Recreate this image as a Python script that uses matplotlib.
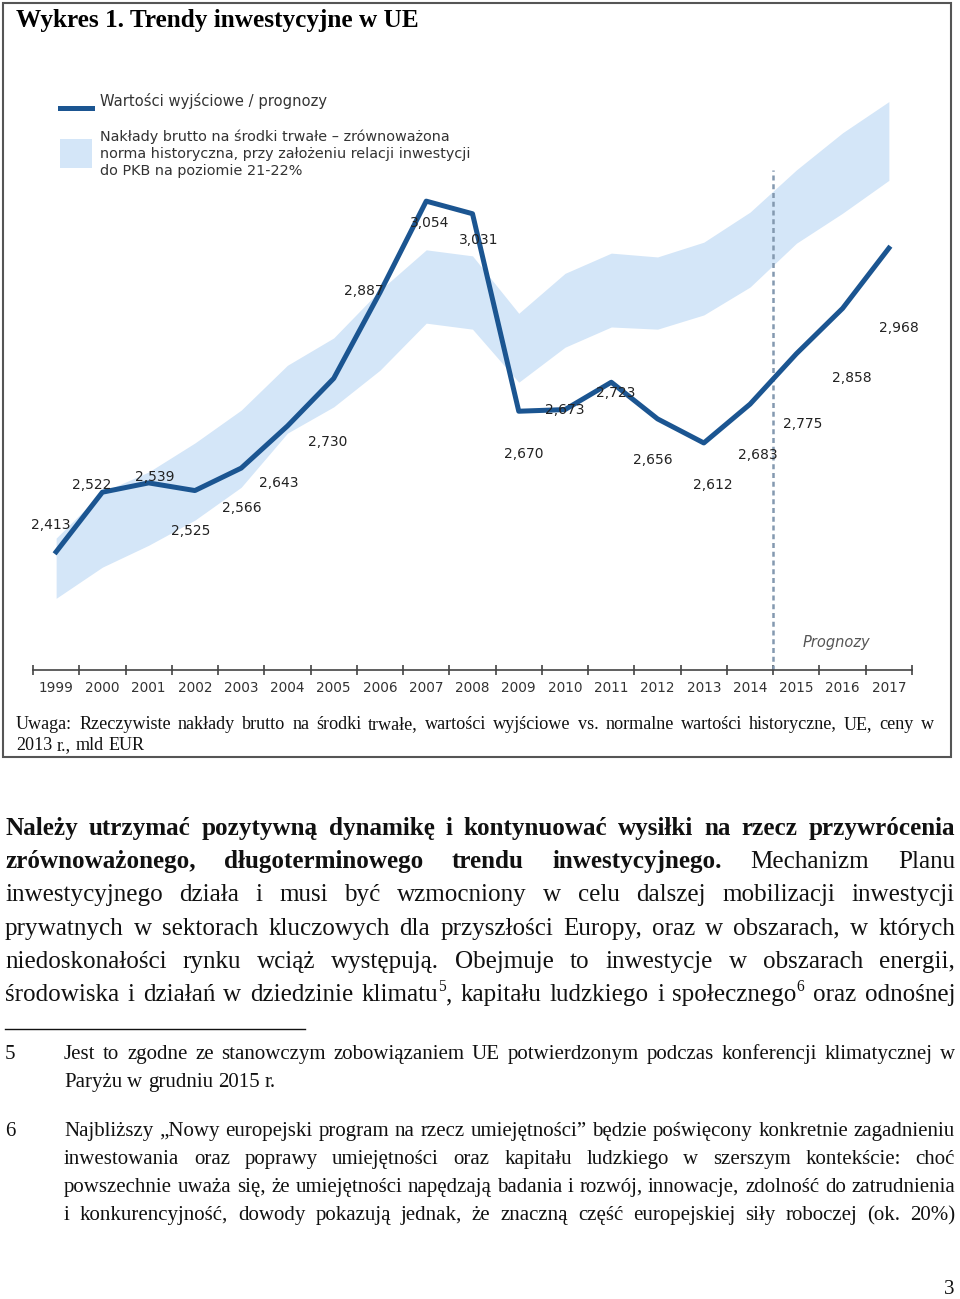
import re
import numpy as np
import matplotlib
matplotlib.use('Agg')
import matplotlib.pyplot as plt
from matplotlib.patches import Rectangle
from matplotlib.lines import Line2D

# --- data (mld EUR, ceny z 2013 r.) ---
years = list(range(1999, 2018))
baseline = [2413, 2522, 2539, 2525, 2566, 2643, 2730, 2887, 3054, 3031,
            2670, 2673, 2723, 2656, 2612, 2683, 2775, 2858, 2968]
norm_low = [2328, 2385, 2425, 2471, 2531, 2630, 2678, 2745, 2831, 2820,
            2723, 2787, 2824, 2820, 2846, 2897, 2977, 3032, 3092]
norm_high = [2438, 2522, 2559, 2612, 2672, 2754, 2804, 2891, 2965, 2954,
             2849, 2922, 2959, 2952, 2979, 3034, 3111, 3179, 3236]
forecast_from = 2014.5

title = "Wykres 1. Trendy inwestycyjne w UE"
legend_line = "Wartości wyjściowe / prognozy"
legend_band = ("Nakłady brutto na środki trwałe – zrównoważona\n"
               "norma historyczna, przy założeniu relacji inwestycji\n"
               "do PKB na poziomie 21-22%")
note = ["Uwaga: Rzeczywiste nakłady brutto na środki trwałe, wartości wyjściowe vs. normalne wartości historyczne, UE, ceny w",
        "2013 r., mld EUR"]

# '*' = bold word, '^n' = superscript
body = [
    "*Należy *utrzymać *pozytywną *dynamikę *i *kontynuować *wysiłki *na *rzecz *przywrócenia",
    "*zrównoważonego, *długoterminowego *trendu *inwestycyjnego. Mechanizm Planu",
    "inwestycyjnego działa i musi być wzmocniony w celu dalszej mobilizacji inwestycji",
    "prywatnych w sektorach kluczowych dla przyszłości Europy, oraz w obszarach, w których",
    "niedoskonałości rynku wciąż występują. Obejmuje to inwestycje w obszarach energii,",
    "środowiska i działań w dziedzinie klimatu^5, kapitału ludzkiego i społecznego^6 oraz odnośnej",
]
fn5 = ["Jest to zgodne ze stanowczym zobowiązaniem UE potwierdzonym podczas konferencji klimatycznej w",
       "Paryżu w grudniu 2015 r."]
fn6 = ["Najbliższy „Nowy europejski program na rzecz umiejętności” będzie poświęcony konkretnie zagadnieniu",
       "inwestowania oraz poprawy umiejętności oraz kapitału ludzkiego w szerszym kontekście: choć",
       "powszechnie uważa się, że umiejętności napędzają badania i rozwój, innowacje, zdolność do zatrudnienia",
       "i konkurencyjność, dowody pokazują jednak, że znaczną część europejskiej siły roboczej (ok. 20%)"]

# label offsets in pixels (dx right, dy down) from each point
lab_off = [(-5, -27), (-11, -7), (6, -6), (-4, 40), (1, 40), (-9, 57), (-6, 64),
           (-16, -2), (3, 22), (6, 26), (5, 43), (0, 0), (4, 11), (-5, 41),
           (9, 42), (8, 51), (6, 70), (9, 70), (10, 80)]

W, H = 960, 1299
SERIF = 'Liberation Serif'
LINE_C = '#1b5591'
BAND_C = '#d4e6f8'

fig = plt.figure(figsize=(W / 100, H / 100), dpi=100)


def fx(x):
    return x / W


def fy(y):
    return 1 - y / H


def put_line(line, x0, x1, base, size, justify=True, color='#111111'):
    rend = fig.canvas.get_renderer()
    em = size * 100 / 72
    words = []
    for w in line.split(' '):
        bold = w.startswith('*')
        w = w.lstrip('*')
        runs = []
        for part in re.split(r'(\^\d)', w):
            if not part:
                continue
            if part.startswith('^'):
                t = fig.text(0, fy(base - 0.4 * em), part[1:], fontsize=size * 0.62,
                             family=SERIF, va='baseline', color=color)
            else:
                t = fig.text(0, fy(base), part, fontsize=size, family=SERIF,
                             fontweight='bold' if bold else 'normal',
                             va='baseline', color=color)
            runs.append(t)
        words.append(runs)
    widths = [[t.get_window_extent(rend).width for t in runs] for runs in words]
    total = sum(sum(ws) for ws in widths)
    gap = 0.25 * em
    if justify and len(words) > 1:
        gap = (x1 - x0 - total) / (len(words) - 1)
    x = x0
    for runs, ws in zip(words, widths):
        for t, wd in zip(runs, ws):
            t.set_x(fx(x))
            x += wd
        x += gap


# --- frame round the chart ---
fig.add_artist(Rectangle((fx(3), fy(757)), 948 / W, 754 / H, transform=fig.transFigure,
                         fill=False, ec='#555555', lw=1.5))
fig.text(fx(16), fy(27), title, family=SERIF, fontweight='bold', fontsize=18.2, va='baseline')

# --- chart ---
ax = fig.add_axes([33 / W, 1 - 670 / H, 879 / W, 610 / H])
ax.fill_between(years, norm_low, norm_high, color=BAND_C, lw=0)
ax.vlines(forecast_from, 2197, 3111, colors='#8499b0', linestyles=(0, (2, 1.5)), lw=1.8)
ax.plot(years, baseline, color=LINE_C, lw=3.6)

for yr, v, (dx, dy) in zip(years, baseline, lab_off):
    ax.annotate(f"{v:,}", (yr, v), xytext=(dx, -dy), textcoords='offset pixels',
                ha='center', va='center', fontsize=10, color='#222222')

ax.set_xlim(1998.5, 2017.5)
ax.set_ylim(2197, 3312)
ax.set_facecolor('none')
for s in ['top', 'right', 'left']:
    ax.spines[s].set_visible(False)
ax.spines['bottom'].set_color('#444444')
ax.spines['bottom'].set_linewidth(1.2)
ax.set_yticks([])
ax.set_xticks(np.arange(1998.5, 2018, 1))
ax.set_xticklabels([])
ax.tick_params(axis='x', which='major', direction='inout', length=7, color='#444444', width=1.2)
ax.set_xticks(years, minor=True)
ax.set_xticklabels([str(y) for y in years], minor=True)
ax.tick_params(axis='x', which='minor', length=0, pad=8, labelsize=9.8, labelcolor='#333333')

fig.text(fx(836), fy(643), 'Prognozy', style='italic', ha='center', va='center',
         fontsize=10.5, color='#555555')

# --- legend ---
fig.add_artist(Line2D([fx(60), fx(92)], [fy(108), fy(108)], transform=fig.transFigure,
                      color=LINE_C, lw=3.6))
fig.text(fx(100), fy(101), legend_line, va='center', fontsize=10.6, color='#333333')
fig.add_artist(Rectangle((fx(60), fy(168)), 32 / W, 29 / H, transform=fig.transFigure,
                         color=BAND_C, lw=0))
fig.text(fx(100), fy(129), legend_band, va='top', fontsize=10.4, color='#333333',
         linespacing=1.3)

# --- note under chart ---
put_line(note[0], 16, 934, 729, 13.1)
put_line(note[1], 16, 934, 750, 13.1, justify=False)

# --- body paragraph ---
for i, line in enumerate(body):
    put_line(line, 5, 955, 835 + 33.2 * i, 18.1)

# --- footnotes ---
fig.add_artist(Line2D([fx(5), fx(305)], [fy(1029), fy(1029)], transform=fig.transFigure,
                      color='#111111', lw=1))
fig.text(fx(5), fy(1059), '5', family=SERIF, fontsize=15, va='baseline', color='#111111')
put_line(fn5[0], 64, 955, 1059, 15)
put_line(fn5[1], 64, 955, 1087, 15, justify=False)
fig.text(fx(5), fy(1136), '6', family=SERIF, fontsize=15, va='baseline', color='#111111')
for i, line in enumerate(fn6):
    put_line(line, 64, 955, 1136 + 28 * i, 15)

fig.text(fx(954), fy(1294), '3', family=SERIF, fontsize=15, ha='right', va='baseline',
         color='#111111')

fig.savefig('out.png', dpi=100)
